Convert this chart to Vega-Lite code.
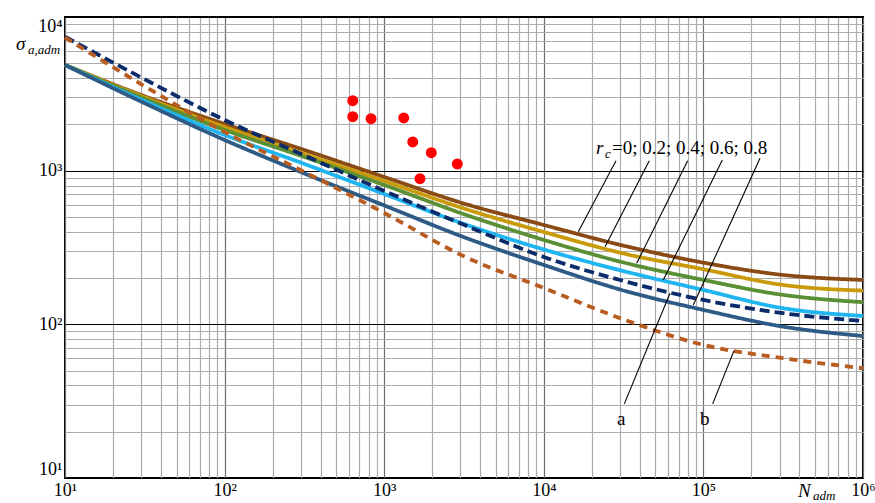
{
  "$schema": "https://vega.github.io/schema/vega-lite/v6.json",
  "width": 798,
  "height": 461,
  "autosize": {"type": "none"},
  "padding": {"left": 65, "top": 17, "right": 12, "bottom": 25},
  "background": "white",
  "config": {"view": {"stroke": "#000000", "strokeWidth": 2}, "font": "Liberation Serif"},
  "datasets": {
    "curves": [
      {"s": "r0", "N": 10, "S": 4873}, {"s": "r0", "N": 31.62, "S": 3046}, {"s": "r0", "N": 100, "S": 2013}, {"s": "r0", "N": 316.2, "S": 1363}, {"s": "r0", "N": 1000, "S": 910}, {"s": "r0", "N": 3162, "S": 611}, {"s": "r0", "N": 10000, "S": 443}, {"s": "r0", "N": 31623, "S": 325}, {"s": "r0", "N": 100000, "S": 252}, {"s": "r0", "N": 316228, "S": 209.6}, {"s": "r0", "N": 1000000, "S": 194.5},
      {"s": "r02", "N": 10, "S": 4873}, {"s": "r02", "N": 31.62, "S": 3001}, {"s": "r02", "N": 100, "S": 1924}, {"s": "r02", "N": 316.2, "S": 1284}, {"s": "r02", "N": 1000, "S": 857}, {"s": "r02", "N": 3162, "S": 567}, {"s": "r02", "N": 10000, "S": 399}, {"s": "r02", "N": 31623, "S": 289}, {"s": "r02", "N": 100000, "S": 228.3}, {"s": "r02", "N": 316228, "S": 180.4}, {"s": "r02", "N": 1000000, "S": 165.7},
      {"s": "r04", "N": 10, "S": 4873}, {"s": "r04", "N": 31.62, "S": 2934}, {"s": "r04", "N": 100, "S": 1840}, {"s": "r04", "N": 316.2, "S": 1228}, {"s": "r04", "N": 1000, "S": 807}, {"s": "r04", "N": 3162, "S": 521}, {"s": "r04", "N": 10000, "S": 354}, {"s": "r04", "N": 31623, "S": 252.6}, {"s": "r04", "N": 100000, "S": 194.5}, {"s": "r04", "N": 316228, "S": 155.4}, {"s": "r04", "N": 1000000, "S": 139.3},
      {"s": "r06", "N": 10, "S": 4873}, {"s": "r06", "N": 31.62, "S": 2826}, {"s": "r06", "N": 100, "S": 1708}, {"s": "r06", "N": 316.2, "S": 1106}, {"s": "r06", "N": 1000, "S": 705}, {"s": "r06", "N": 3162, "S": 450}, {"s": "r06", "N": 10000, "S": 307}, {"s": "r06", "N": 31623, "S": 222}, {"s": "r06", "N": 100000, "S": 167.4}, {"s": "r06", "N": 316228, "S": 127.3}, {"s": "r06", "N": 1000000, "S": 113.4},
      {"s": "r08", "N": 10, "S": 4873}, {"s": "r08", "N": 31.62, "S": 2743}, {"s": "r08", "N": 100, "S": 1584}, {"s": "r08", "N": 316.2, "S": 959}, {"s": "r08", "N": 1000, "S": 594}, {"s": "r08", "N": 3162, "S": 369}, {"s": "r08", "N": 10000, "S": 243.5}, {"s": "r08", "N": 31623, "S": 166}, {"s": "r08", "N": 100000, "S": 124.1}, {"s": "r08", "N": 316228, "S": 96.6}, {"s": "r08", "N": 1000000, "S": 84.0},
      {"s": "a", "N": 10, "S": 7443}, {"s": "a", "N": 31.62, "S": 3930}, {"s": "a", "N": 100, "S": 2137}, {"s": "a", "N": 316.2, "S": 1256}, {"s": "a", "N": 1000, "S": 738}, {"s": "a", "N": 3162, "S": 444}, {"s": "a", "N": 10000, "S": 274.5}, {"s": "a", "N": 31623, "S": 191.5}, {"s": "a", "N": 100000, "S": 144.1}, {"s": "a", "N": 316228, "S": 118.1}, {"s": "a", "N": 1000000, "S": 105.2},
      {"s": "b", "N": 10, "S": 7357}, {"s": "b", "N": 31.62, "S": 3539}, {"s": "b", "N": 100, "S": 1786}, {"s": "b", "N": 316.2, "S": 980.6}, {"s": "b", "N": 1000, "S": 530.6}, {"s": "b", "N": 3162, "S": 277}, {"s": "b", "N": 10000, "S": 172.5}, {"s": "b", "N": 31623, "S": 107.6}, {"s": "b", "N": 100000, "S": 73.5}, {"s": "b", "N": 316228, "S": 60.2}, {"s": "b", "N": 1000000, "S": 51.8}
    ],
    "pts": [
      {"N": 635, "S": 2853}, {"N": 635, "S": 2245}, {"N": 827, "S": 2179}, {"N": 1325, "S": 2202},
      {"N": 1509, "S": 1537}, {"N": 1973, "S": 1309}, {"N": 2871, "S": 1106}, {"N": 1676, "S": 887}
    ],
    "leaders": [
      {"N": 28340, "S": 1162, "N2": 16450, "S2": 401},
      {"N": 45810, "S": 1162, "N2": 24190, "S2": 320.3},
      {"N": 79710, "S": 1162, "N2": 38210, "S2": 249.7},
      {"N": 131350, "S": 1174, "N2": 56080, "S2": 194.5},
      {"N": 226200, "S": 1204, "N2": 86430, "S2": 133.7},
      {"N": 61760, "S": 159.3, "N2": 31940, "S2": 30.35},
      {"N": 155500, "S": 67.45, "N2": 114360, "S2": 30.35}
    ],
    "textNormal": [
      {"label": "=0; 0.2; 0.4; 0.6; 0.8", "N": 26750, "S": 1284},
      {"label": "a", "N": 28740, "S": 22.16},
      {"label": "b", "N": 95210, "S": 22.16}
    ],
    "textItalic": [
      {"label": "r", "N": 21240, "S": 1284},
      {"label": "σ", "N": 4.932, "S": 6100},
      {"label": "N", "N": 391500, "S": 7.53}
    ],
    "textSub": [
      {"label": "c", "N": 24190, "S": 1204},
      {"label": "a,adm", "N": 5.865, "S": 5745},
      {"label": "adm", "N": 486100, "S": 7.2}
    ]
  },
  "encoding": {
    "x": {
      "field": "N", "type": "quantitative",
      "scale": {"type": "log", "domain": [10, 1000000], "nice": false, "zero": false},
      "axis": {
        "values": [10,20,30,40,50,60,70,80,90,100,200,300,400,500,600,700,800,900,1000,2000,3000,4000,5000,6000,7000,8000,9000,10000,20000,30000,40000,50000,60000,70000,80000,90000,100000,200000,300000,400000,500000,600000,700000,800000,900000,1000000],
        "grid": true,
        "gridColor": {"condition": {"test": "abs(log(datum.value)/LN10-round(log(datum.value)/LN10))<0.001", "value": "#6e6e6e"}, "value": "#ababab"},
        "gridWidth": 1.2,
        "domain": false,
        "ticks": false,
        "labelExpr": "abs(log(datum.value)/LN10-round(log(datum.value)/LN10))<0.001 ? '10' + ['⁰','¹','²','³','⁴','⁵','⁶'][round(log(datum.value)/LN10)] : ''",
        "labelFont": "Liberation Serif, Times New Roman, serif",
        "labelFontSize": 18,
        "labelColor": "#000000",
        "labelPadding": 3,
        "labelOverlap": false,
        "labelFlush": false,
        "labelBound": false,
        "title": null
      }
    },
    "y": {
      "field": "S", "type": "quantitative",
      "scale": {"type": "log", "domain": [10, 10000], "nice": false, "zero": false},
      "axis": {
        "values": [10,20,30,40,50,60,70,80,90,100,200,300,400,500,600,700,800,900,1000,2000,3000,4000,5000,6000,7000,8000,9000,10000],
        "grid": true,
        "gridColor": {"condition": {"test": "abs(log(datum.value)/LN10-round(log(datum.value)/LN10))<0.001", "value": "#000000"}, "value": "#ababab"},
        "gridWidth": 1.2,
        "domain": false,
        "ticks": false,
        "labelExpr": "abs(log(datum.value)/LN10-round(log(datum.value)/LN10))<0.001 ? '10' + ['⁰','¹','²','³','⁴','⁵','⁶'][round(log(datum.value)/LN10)] : ''",
        "labelFont": "Liberation Serif, Times New Roman, serif",
        "labelFontSize": 18,
        "labelColor": "#000000",
        "labelPadding": 3,
        "labelOverlap": false,
        "labelFlush": true,
        "title": null
      }
    }
  },
  "layer": [
    {
      "data": {"name": "curves"},
      "mark": {"type": "line", "strokeWidth": 3.8, "interpolate": "monotone"},
      "encoding": {
        "color": {"field": "s", "type": "nominal",
          "scale": {"domain": ["r0", "r02", "r04", "r06", "r08", "a", "b"],
                    "range": ["#8a4a14", "#c99a0a", "#5b8f35", "#1fb5f0", "#2d5b86", "#0b2b6b", "#b85c20"]},
          "legend": null},
        "strokeDash": {"field": "s", "type": "nominal",
          "scale": {"domain": ["r0", "r02", "r04", "r06", "r08", "a", "b"],
                    "range": [[1, 0], [1, 0], [1, 0], [1, 0], [1, 0], [10, 5], [8, 6]]},
          "legend": null}
      }
    },
    {
      "data": {"name": "pts"},
      "mark": {"type": "circle", "size": 120, "color": "#ff0000", "opacity": 1}
    },
    {
      "data": {"name": "leaders"},
      "mark": {"type": "rule", "color": "#000000", "strokeWidth": 1.1},
      "encoding": {
        "x2": {"field": "N2"},
        "y2": {"field": "S2"}
      }
    },
    {
      "data": {"name": "textNormal"},
      "mark": {"type": "text", "align": "left", "baseline": "alphabetic", "font": "Liberation Serif, Times New Roman, serif", "fontSize": 19, "color": "#000000"},
      "encoding": {"text": {"field": "label"}}
    },
    {
      "data": {"name": "textItalic"},
      "mark": {"type": "text", "align": "left", "baseline": "alphabetic", "font": "Liberation Serif, Times New Roman, serif", "fontStyle": "italic", "fontSize": 19, "color": "#000000"},
      "encoding": {"text": {"field": "label"}}
    },
    {
      "data": {"name": "textSub"},
      "mark": {"type": "text", "align": "left", "baseline": "alphabetic", "font": "Liberation Serif, Times New Roman, serif", "fontStyle": "italic", "fontSize": 13, "color": "#000000"},
      "encoding": {"text": {"field": "label"}}
    }
  ]
}
